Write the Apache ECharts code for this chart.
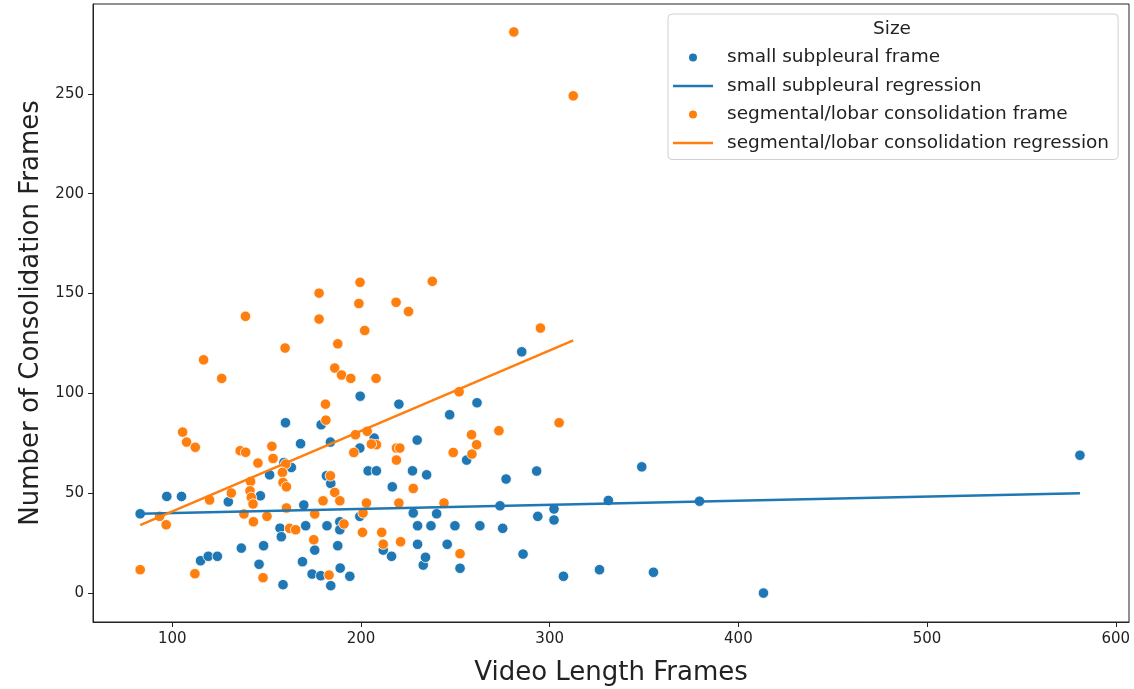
<!DOCTYPE html>
<html>
<head>
<meta charset="utf-8">
<script src="https://cdn.jsdelivr.net/npm/echarts@6/dist/echarts.min.js"></script>
<style>
  html, body { margin: 0; padding: 0; background: #fff; }
  #chart { width: 1134px; height: 689px; }
</style>
</head>
<body>
<div id="chart"></div>
<script>
// small subpleural: [video length frames, consolidation frames]
const smallPoints = [
  [83, 39.7], [97.1, 48.4], [104.9, 48.4], [115, 16.2], [119.1, 18.4], [123.9, 18.4],
  [129.7, 45.7], [136.6, 22.5], [146, 14.4], [146.7, 48.7], [148.4, 23.7], [151.6, 59.2],
  [157.1, 32.5], [157.8, 28.2], [158.7, 4.2], [159.2, 65.4], [160, 85.3], [163.1, 62.9],
  [168, 74.8], [169, 15.7], [169.7, 44.1], [170.7, 33.7], [174.1, 9.5], [175.5, 21.5],
  [178.7, 8.7], [178.9, 84.3], [181.7, 58.7], [182, 33.7], [183.8, 75.6], [184, 54.9],
  [184, 3.7], [187.7, 23.7], [188.8, 35.7], [188.8, 31.7], [189, 12.5], [194.1, 8.4],
  [199.4, 38.4], [199.4, 72.6], [199.6, 98.6], [203.8, 61.2], [207, 77.6], [208.2, 61.2],
  [211.8, 21.5], [216.2, 18.4], [216.6, 53.2], [220.1, 94.6], [227.3, 61.2], [227.7, 40.1],
  [229.8, 76.6], [230, 33.7], [230, 24.4], [233, 14], [234.2, 17.9], [234.8, 59.2],
  [237.1, 33.7], [240.1, 39.7], [245.7, 24.4], [247, 89.3], [249.8, 33.7], [252.5, 12.4],
  [256, 66.6], [261.5, 95.3], [263, 33.7], [273.7, 43.7], [275.1, 32.4], [276.9, 57.1],
  [285.2, 120.8], [285.9, 19.5], [293.1, 61.1], [293.7, 38.4], [302.3, 42.1], [302.3, 36.6],
  [307.3, 8.4], [326.4, 11.7], [331.1, 46.4], [348.8, 63.2], [355, 10.4], [379.4, 46],
  [413.3, 0], [581, 69]
];

// segmental/lobar consolidation
const segmentalPoints = [
  [281, 281], [312.5, 249], [237.8, 156.1], [199.5, 155.6], [177.8, 150.2], [198.9, 145],
  [218.6, 145.6], [225.2, 141], [138.8, 138.6], [177.8, 137.2], [202, 131.5], [295.1, 132.7],
  [159.8, 122.7], [187.7, 124.8], [116.6, 116.8], [126.2, 107.5], [186.1, 112.7], [189.7, 109.2],
  [194.6, 107.5], [208, 107.5], [252, 100.8], [181.2, 94.6], [181.4, 86.6], [305, 85.3],
  [105.5, 80.6], [107.6, 75.6], [112.2, 73], [136, 71.3], [138.9, 70.5], [152.8, 73.5],
  [153.4, 67.4], [145.4, 65.1], [160.1, 64.6], [158.4, 60.4], [158.7, 55.4], [160.5, 53.2],
  [141.5, 55.9], [141.2, 51.2], [141.9, 47.9], [142.8, 44.6], [138, 39.6], [131.3, 50.1],
  [119.8, 46.6], [93.3, 38.4], [96.8, 34.2], [143, 35.7], [150.2, 38.4], [83, 11.7],
  [112, 9.7], [148.1, 7.7], [197.1, 79.3], [203.3, 81], [208.2, 74.3], [205.5, 74.6],
  [218.8, 72.6], [220.6, 72.6], [258.6, 79.3], [261.3, 74.3], [248.9, 70.4], [273.1, 81.3],
  [196.2, 70.4], [218.8, 66.6], [258.8, 69.6], [183.8, 58.7], [227.7, 52.4], [186.1, 50.4],
  [188.8, 46.2], [179.9, 46.2], [202.9, 45.1], [220.1, 45.1], [244, 45.1], [160.5, 42.6],
  [175.5, 39.6], [201.1, 40.1], [191, 34.6], [162.2, 32.4], [165.4, 31.7], [200.8, 30.4],
  [211, 30.4], [175, 26.7], [211.8, 24.5], [221, 25.7], [252.5, 19.7], [183.1, 9]
];

// regression line end points
const smallRegression = [[83, 39.7], [581, 50.0]];
const segmentalRegression = [[83, 34], [312.5, 126.5]];

const xTicks = [100, 200, 300, 400, 500, 600];
const yTicks = [0, 50, 100, 150, 200, 250];

const blue = '#1f77b4';
const orange = '#ff7f0e';
const font = 'DejaVu Sans';
const lineIcon = 'path://M0,0 L40,0 L40,2.6 L0,2.6 Z';

const chart = echarts.init(document.getElementById('chart'));

chart.setOption({
  animation: false,
  grid: {
    left: 93, right: 5, top: 4, bottom: 67,
    outerBoundsMode: 'none',
    containLabel: false,
    show: true, borderColor: '#222', borderWidth: 1
  },
  xAxis: {
    type: 'value',
    min: 58, max: 607,
    name: 'Video Length Frames',
    nameLocation: 'middle',
    nameGap: 38,
    nameTextStyle: { fontFamily: font, fontSize: 26, color: '#222' },
    axisLine: { show: true, onZero: false, lineStyle: { color: '#222' } },
    axisTick: { show: true, length: 5, customValues: xTicks, lineStyle: { color: '#222' } },
    axisLabel: { customValues: xTicks, fontFamily: font, fontSize: 15, color: '#222', margin: 10 },
    splitLine: { show: false }
  },
  yAxis: {
    type: 'value',
    min: -14.5, max: 295,
    name: 'Number of Consolidation Frames',
    nameLocation: 'middle',
    nameGap: 49,
    nameTextStyle: { fontFamily: font, fontSize: 26, color: '#222' },
    axisLine: { show: true, onZero: false, lineStyle: { color: '#222' } },
    axisTick: { show: true, length: 5, customValues: yTicks, lineStyle: { color: '#222' } },
    axisLabel: { customValues: yTicks, fontFamily: font, fontSize: 15, color: '#222', margin: 9 },
    splitLine: { show: false }
  },
  legend: {
    orient: 'vertical',
    left: 668, top: 14,
    padding: [34, 9, 7, 5],
    itemGap: 9.5,
    itemWidth: 40, itemHeight: 10,
    borderColor: '#d0d0d0', borderWidth: 1, borderRadius: 4,
    backgroundColor: 'rgba(255,255,255,0.8)',
    textStyle: { fontFamily: font, fontSize: 18.5, color: '#222', padding: [0, 0, 0, 9] },
    data: [
      { name: 'small subpleural frame', icon: 'circle' },
      { name: 'small subpleural regression', icon: lineIcon },
      { name: 'segmental/lobar consolidation frame', icon: 'circle' },
      { name: 'segmental/lobar consolidation regression', icon: lineIcon }
    ]
  },
  graphic: [{
    type: 'text',
    left: 873, top: 20,
    z: 100,
    style: { text: 'Size', font: '18.5px "DejaVu Sans"', fill: '#222' }
  }],
  series: [
    {
      name: 'small subpleural frame',
      type: 'scatter',
      data: smallPoints,
      symbolSize: 10.5,
      itemStyle: { color: blue, borderColor: '#fff', borderWidth: 0.8, opacity: 1 },
      z: 2
    },
    {
      name: 'segmental/lobar consolidation frame',
      type: 'scatter',
      data: segmentalPoints,
      symbolSize: 10.5,
      itemStyle: { color: orange, borderColor: '#fff', borderWidth: 0.8, opacity: 1 },
      z: 2
    },
    {
      name: 'small subpleural regression',
      type: 'line',
      data: smallRegression,
      symbol: 'none',
      lineStyle: { color: blue, width: 2.5 },
      itemStyle: { color: blue },
      z: 3
    },
    {
      name: 'segmental/lobar consolidation regression',
      type: 'line',
      data: segmentalRegression,
      symbol: 'none',
      lineStyle: { color: orange, width: 2.5 },
      itemStyle: { color: orange },
      z: 3
    }
  ]
});
</script>
</body>
</html>
